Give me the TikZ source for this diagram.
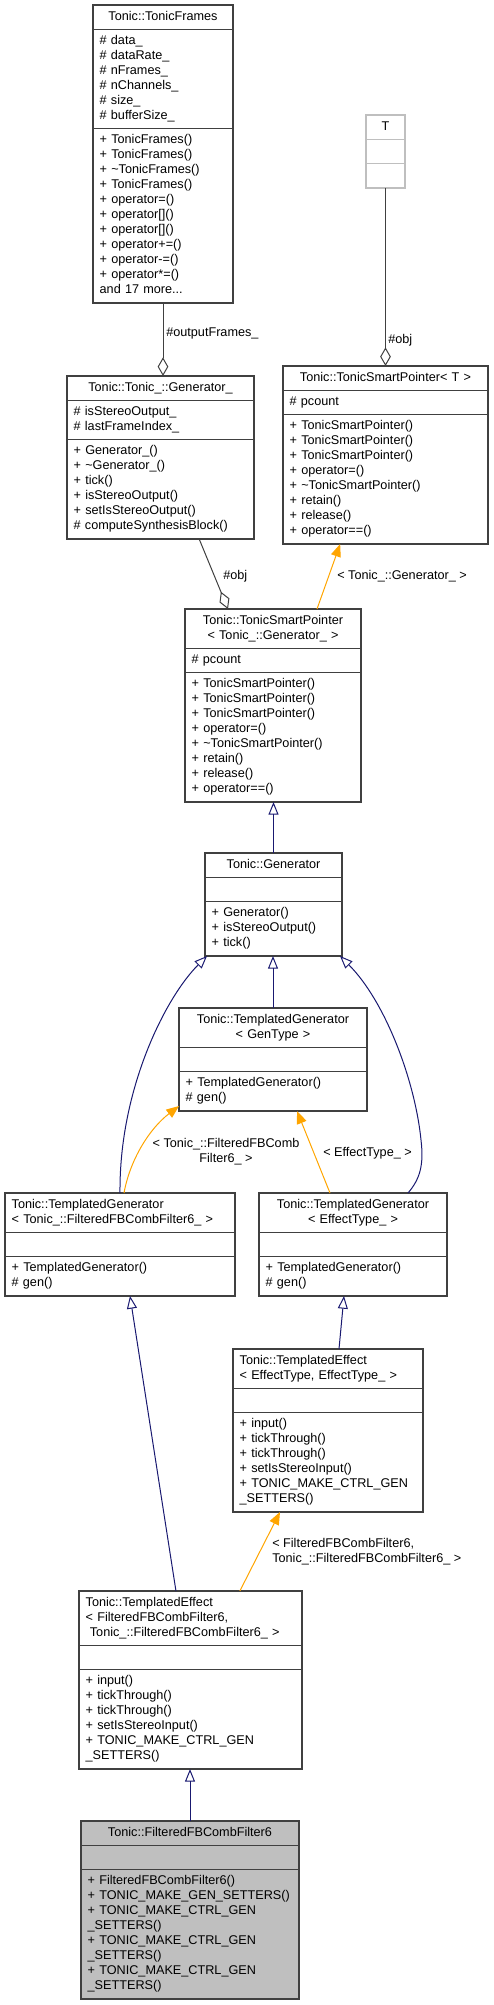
\documentclass[tikz,border=0pt]{standalone}
\usepackage{fontspec}
\setmainfont{Liberation Sans}
\usepackage{tikz}
\usetikzlibrary{arrows.meta,positioning}
\definecolor{cEdge}{HTML}{404040}
\definecolor{cBlue}{HTML}{191970}
\definecolor{cOrange}{HTML}{FFA500}
\definecolor{cFill}{HTML}{BFBFBF}
\newcommand{\dxfont}{\fontsize{9.5pt}{11.25pt}\selectfont}

\begin{document}
\begin{tikzpicture}[x=0.75pt,y=-0.75pt,
    box/.style={draw=cEdge,fill=white,line width=0.8pt,inner xsep=5pt,inner ysep=3.5pt,outer sep=0pt,align=left,font=\dxfont,execute at begin node=\strut,execute at end node=\strut},
    head/.style={box,align=center},
    agg/.style={draw=cEdge,line width=0.75pt,-{Diamond[open,length=14pt,width=8pt]}},
    inh/.style={draw=cBlue,line width=0.75pt,-{Triangle[open,length=9.5pt,width=7.5pt]}},
    tpl/.style={draw=cOrange,line width=0.75pt,-{Triangle[length=9.5pt,width=7.5pt]}},
    lbl/.style={font=\dxfont,inner sep=0pt}]
  \useasboundingbox (0,0) rectangle (493,2005);

  \node[head,text width=95pt,anchor=north west] (tf) at (93,5) {Tonic::TonicFrames};
  \node[box,text width=95pt,below=0pt of tf] (tfA) {\# data\_\\\# dataRate\_\\\# nFrames\_\\\# nChannels\_\\\# size\_\\\# bufferSize\_};
  \node[box,text width=95pt,below=0pt of tfA] (tfM) {+ TonicFrames()\\+ TonicFrames()\\+ \textasciitilde TonicFrames()\\+ TonicFrames()\\+ operator=()\\+ operator[]()\\+ operator[]()\\+ operator+=()\\+ operator-=()\\+ operator*=()\\and 17 more...};

  \node[head,draw=cFill,text width=19.25pt,anchor=north west] (tT) at (366,115) {T};
  \node[box,draw=cFill,text width=19.25pt,below=0pt of tT] (tTA) {};
  \node[box,draw=cFill,text width=19.25pt,below=0pt of tTA] (tTM) {};

  \node[head,text width=130.25pt,anchor=north west] (gnr) at (67,376) {Tonic::Tonic\_::Generator\_};
  \node[box,text width=130.25pt,below=0pt of gnr] (gnrA) {\# isStereoOutput\_\\\# lastFrameIndex\_};
  \node[box,text width=130.25pt,below=0pt of gnrA] (gnrM) {+ Generator\_()\\+ \textasciitilde Generator\_()\\+ tick()\\+ isStereoOutput()\\+ setIsStereoOutput()\\\# computeSynthesisBlock()};

  \node[head,text width=143.75pt,anchor=north west] (sptT) at (283,366) {Tonic::TonicSmartPointer< T >};
  \node[box,text width=143.75pt,below=0pt of sptT] (sptTA) {\# pcount};
  \node[box,text width=143.75pt,below=0pt of sptTA] (sptTM) {+ TonicSmartPointer()\\+ TonicSmartPointer()\\+ TonicSmartPointer()\\+ operator=()\\+ \textasciitilde TonicSmartPointer()\\+ retain()\\+ release()\\+ operator==()};

  \node[head,text width=122pt,anchor=north west] (sptG) at (185,609) {Tonic::TonicSmartPointer\\< Tonic\_::Generator\_ >};
  \node[box,text width=122pt,below=0pt of sptG] (sptGA) {\# pcount};
  \node[box,text width=122pt,below=0pt of sptGA] (sptGM) {+ TonicSmartPointer()\\+ TonicSmartPointer()\\+ TonicSmartPointer()\\+ operator=()\\+ \textasciitilde TonicSmartPointer()\\+ retain()\\+ release()\\+ operator==()};

  \node[head,text width=92.75pt,anchor=north west] (gen) at (205,853) {Tonic::Generator};
  \node[box,text width=92.75pt,below=0pt of gen] (genA) {};
  \node[box,text width=92.75pt,below=0pt of genA] (genM) {+ Generator()\\+ isStereoOutput()\\+ tick()};

  \node[head,text width=131pt,anchor=north west] (tgG) at (179,1008) {Tonic::TemplatedGenerator\\< GenType >};
  \node[box,text width=131pt,below=0pt of tgG] (tgGA) {};
  \node[box,text width=131pt,below=0pt of tgGA] (tgGM) {+ TemplatedGenerator()\\\# gen()};

  \node[box,text width=162.5pt,anchor=north west] (tgF) at (5,1193) {Tonic::TemplatedGenerator\\< Tonic\_::FilteredFBCombFilter6\_ >};
  \node[box,text width=162.5pt,below=0pt of tgF] (tgFA) {};
  \node[box,text width=162.5pt,below=0pt of tgFA] (tgFM) {+ TemplatedGenerator()\\\# gen()};

  \node[head,text width=131pt,anchor=north west] (tgE) at (259,1193) {Tonic::TemplatedGenerator\\< EffectType\_ >};
  \node[box,text width=131pt,below=0pt of tgE] (tgEA) {};
  \node[box,text width=131pt,below=0pt of tgEA] (tgEM) {+ TemplatedGenerator()\\\# gen()};

  \node[box,text width=132.5pt,anchor=north west] (teE) at (233,1349) {Tonic::TemplatedEffect\\< EffectType, EffectType\_ >};
  \node[box,text width=132.5pt,below=0pt of teE] (teEA) {};
  \node[box,text width=132.5pt,below=0pt of teEA] (teEM) {+ input()\\+ tickThrough()\\+ tickThrough()\\+ setIsStereoInput()\\+ TONIC\_MAKE\_CTRL\_GEN\\\_SETTERS()};

  \node[box,text width=157.25pt,anchor=north west] (teF) at (79,1591) {Tonic::TemplatedEffect\\< FilteredFBCombFilter6,\\\ Tonic\_::FilteredFBCombFilter6\_ >};
  \node[box,text width=157.25pt,below=0pt of teF] (teFA) {};
  \node[box,text width=157.25pt,below=0pt of teFA] (teFM) {+ input()\\+ tickThrough()\\+ tickThrough()\\+ setIsStereoInput()\\+ TONIC\_MAKE\_CTRL\_GEN\\\_SETTERS()};

  \node[head,fill=cFill,text width=153.5pt,anchor=north west] (ff) at (81,1821) {Tonic::FilteredFBCombFilter6};
  \node[box,fill=cFill,text width=153.5pt,below=0pt of ff] (ffA) {};
  \node[box,fill=cFill,text width=153.5pt,below=0pt of ffA] (ffM) {+ FilteredFBCombFilter6()\\+ TONIC\_MAKE\_GEN\_SETTERS()\\+ TONIC\_MAKE\_CTRL\_GEN\\\_SETTERS()\\+ TONIC\_MAKE\_CTRL\_GEN\\\_SETTERS()\\+ TONIC\_MAKE\_CTRL\_GEN\\\_SETTERS()};

  \draw[agg] (tfM.south) -- (tfM.south |- gnr.north);
  \draw[agg] (tTM.south) -- (sptT.north);
  \draw[agg] ([xshift=29pt]gnrM.south) -- ([xshift=-33.75pt]sptG.north);
  \draw[tpl] ([xshift=33pt]sptG.north) -- ([xshift=-34pt]sptTM.south);
  \draw[inh] (gen.north) -- (gen.north |- sptGM.south);
  \draw[inh] (tgG.north) -- (tgG.north |- genM.south);
  \draw[inh] (tgF.north) .. controls +(-1,-103) and +(-42,42) .. ([xshift=1.5pt]genM.south west);
  \draw[inh] ([xshift=41.25pt]tgE.north) .. controls +(12,-14) and +(3,25) .. ++(13,-53) .. controls +(-6,-60) and +(45,45) .. ([xshift=-1.5pt]genM.south east);
  \draw[tpl] ([xshift=3pt]tgF.north) .. controls +(6,-33) and +(-30,23) .. ([yshift=-11pt]tgGM.west);
  \draw[tpl] ([xshift=-17.25pt]tgE.north) -- ([xshift=18pt]tgGM.south);
  \draw[inh] ([xshift=8.25pt]teE.north) -- ([xshift=-6.75pt]tgEM.south);
  \draw[inh] ([xshift=-10.9pt]teF.north) -- ([xshift=7.5pt]tgFM.south);
  \draw[tpl] ([xshift=37pt]teF.north) -- ([xshift=-36pt]teEM.south);
  \draw[inh] (ff.north) -- (ff.north |- teFM.south);

  \node[lbl,anchor=west] (lOut) at (166,333) {\#outputFrames\_};
  \node[lbl,anchor=west] (lObjT) at (388,340) {\#obj};
  \node[lbl,anchor=west] (lObjG) at (223,576) {\#obj};
  \node[lbl,anchor=west] (lGen) at (337,576) {< Tonic\_::Generator\_ >};
  \node[lbl,align=center] (lFilt) at (226,1152) {< Tonic\_::FilteredFBComb\\Filter6\_ >};
  \node[lbl,anchor=west] (lEff) at (323,1153) {< EffectType\_ >};
  \node[lbl,anchor=west,align=left] (lPair) at (272,1552) {< FilteredFBCombFilter6,\\Tonic\_::FilteredFBCombFilter6\_ >};
\end{tikzpicture}
\end{document}
